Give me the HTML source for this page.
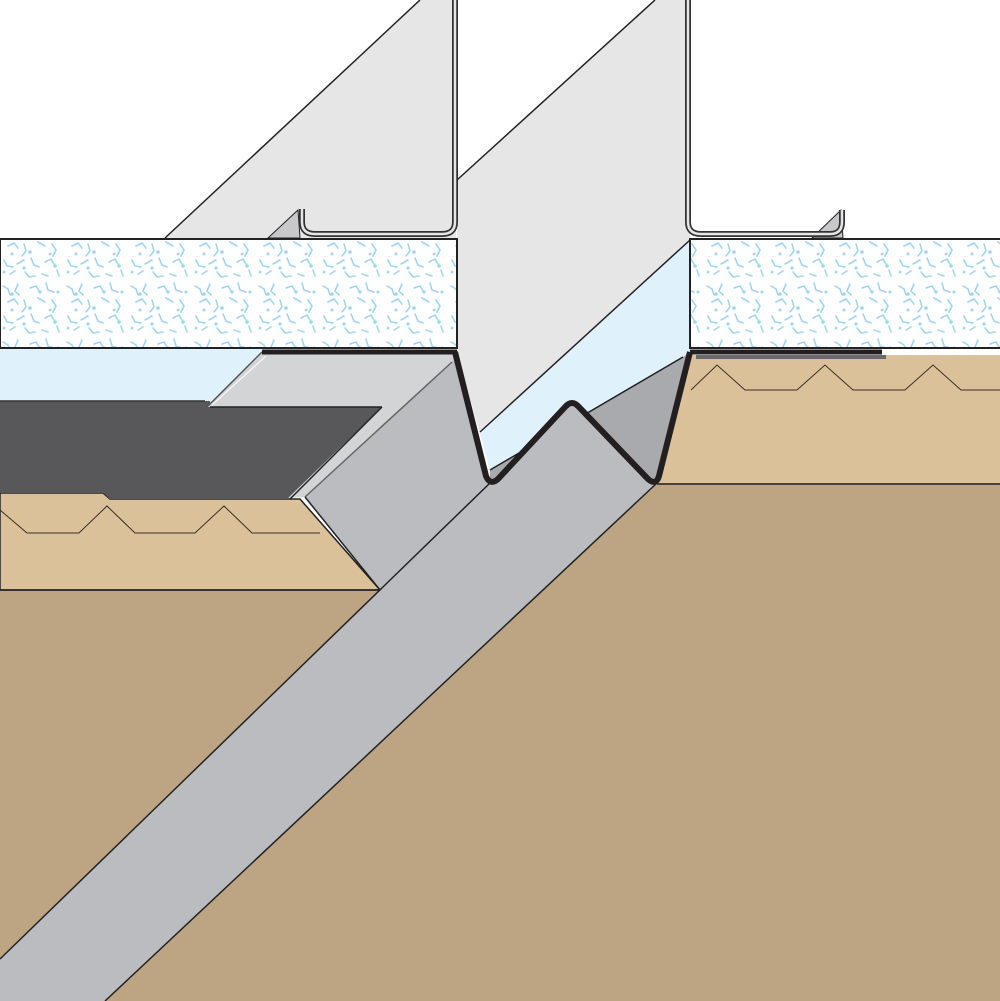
<!DOCTYPE html>
<html><head><meta charset="utf-8"><style>html,body{margin:0;padding:0;background:#fff}svg{display:block}</style></head>
<body>
<svg width="1000" height="1001" viewBox="0 0 1000 1001" xmlns="http://www.w3.org/2000/svg">
<defs>
<pattern id="sp" width="64" height="56" patternUnits="userSpaceOnUse">
<rect width="64" height="56" fill="#fff"/>
<g fill="none" stroke="#9fd6f1" stroke-width="1.6" stroke-linecap="round">
<path d="M3 6 l5 3 l2 6"/><path d="M18 4 l-3 7 l4 4"/><path d="M30 8 l6 -2 l3 5"/><path d="M46 3 l2 7 l6 2"/>
<path d="M8 22 l6 -3 l4 5"/><path d="M24 20 l2 7 l-4 5"/><path d="M38 18 l7 4"/><path d="M52 20 l4 6 l-3 6"/>
<path d="M4 36 l3 6 l6 1"/><path d="M17 40 l7 -4"/><path d="M31 34 l3 7 l5 2"/><path d="M45 38 l6 -3 l3 5"/>
<path d="M10 50 l5 -3"/><path d="M25 48 l4 5 l6 -1"/><path d="M42 50 l6 2"/><path d="M57 46 l2 6"/>
</g>
<g fill="#9fd6f1">
<circle cx="12" cy="14" r="1.8"/><circle cx="40" cy="12" r="1.6"/><circle cx="58" cy="12" r="1.5"/><circle cx="30" cy="28" r="1.8"/>
<circle cx="50" cy="30" r="1.4"/><circle cx="12" cy="30" r="1.5"/><circle cx="24" cy="44" r="1.6"/><circle cx="55" cy="42" r="1.8"/><circle cx="4" cy="48" r="1.4"/>
</g>
</pattern>
</defs>
<rect width="1000" height="1001" fill="#fff"/>
<!-- right floor -->
<polygon points="657,483 1000,483 1000,1001 105,1001" fill="#bda584"/>
<!-- left floor -->
<polygon points="0,590 380,590 0,959" fill="#bda584"/>
<!-- left tan layer -->
<polygon points="0,493 103,493 110,499 300,499 380,590 0,590" fill="#dbc19a" stroke="#222" stroke-width="1.5"/>
<polyline points="0,510 27,533 79,533 107,506 135,533 195,533 224,506 252,533 320,533" fill="none" stroke="#3a2f24" stroke-width="1"/>
<!-- left light blue band -->
<rect x="0" y="348" width="300" height="60" fill="#dff1fb"/>
<!-- dark slab -->
<polygon points="0,401 210,401 210,407 382,407 290,499 110,499 103,493 0,493" fill="#58585a"/>
<line x1="0" y1="401" x2="205" y2="401" stroke="#333" stroke-width="1.5"/>
<!-- right tan layer -->
<polygon points="690,355 1000,355 1000,483 657,483" fill="#dbc19a"/>
<line x1="657" y1="484" x2="1000" y2="484" stroke="#222" stroke-width="1.5"/>
<polyline points="691,390 717,365 745,390 797,390 825,365 853,390 905,390 933,365 961,390 1000,390" fill="none" stroke="#3a2f24" stroke-width="1"/>
<!-- flashing flange -->
<polygon points="262,352 457,352 457,357 305,497 288,498 382,407 207,407" fill="#d3d4d6"/>
<polyline points="207,407 262,352" fill="none" stroke="#555" stroke-width="1.5"/>
<polyline points="212,405 266,356" fill="none" stroke="#fff" stroke-width="1"/>
<line x1="210" y1="407" x2="382" y2="407" stroke="#222" stroke-width="1.5"/>
<line x1="382" y1="407" x2="290" y2="499" stroke="#222" stroke-width="1.5"/>
<!-- flashing vertical face -->
<polygon points="305,497 457,357 490,483 380,590" fill="#bbbcc0"/>
<line x1="305" y1="497" x2="452" y2="362" stroke="#666" stroke-width="1.5"/>
<line x1="305" y1="497" x2="380" y2="590" stroke="#222" stroke-width="1.5"/>
<line x1="0" y1="590" x2="380" y2="590" stroke="#222" stroke-width="1.5"/>
<!-- vertical plates -->
<polygon points="165,238 420,0 456,0 456,238" fill="#e6e6e7"/>
<line x1="165" y1="238" x2="420" y2="0" stroke="#222" stroke-width="1.5"/>
<polygon points="457,180 655,0 690,0 690,240 480,432 490,470 457,352" fill="#e6e6e7"/>
<line x1="457" y1="180" x2="655" y2="0" stroke="#222" stroke-width="1.5"/>
<!-- hooks -->
<polygon points="268,238 298,210 300,238" fill="#c8c8ca" stroke="#222" stroke-width="1"/>
<path d="M302 209 L302 222 Q302 234 315 234 L442 234 Q455 234 455 222 L455 0" fill="none" stroke="#333" stroke-width="6"/>
<path d="M302 209 L302 222 Q302 234 315 234 L442 234 Q455 234 455 222 L455 0" fill="none" stroke="#e6e6e7" stroke-width="2.5"/>
<polygon points="812,238 841,210 843,238" fill="#c8c8ca" stroke="#222" stroke-width="1"/>
<path d="M688 0 L688 222 Q688 234 701 234 L830 234 Q842 234 842 222 L842 210" fill="none" stroke="#333" stroke-width="6"/>
<path d="M688 0 L688 222 Q688 234 701 234 L830 234 Q842 234 842 222 L842 210" fill="none" stroke="#e6e6e7" stroke-width="2.5"/>
<!-- blue band in gap -->
<polygon points="690,240 690,352 683,357 490,470 480,432" fill="#dff1fb"/>
<line x1="690" y1="240" x2="480" y2="432" stroke="#222" stroke-width="1.5"/>
<!-- darker gray behind -->
<polygon points="683,357 690,352 658,483 490,483 490,470" fill="#a9aaae"/>
<line x1="683" y1="357" x2="490" y2="470" stroke="#222" stroke-width="1.5"/>
<!-- diagonal strip -->
<polygon points="490,483 572,402 657,483 105,1001 0,1001 0,959" fill="#bbbcc0"/>
<line x1="490" y1="483" x2="0" y2="959" stroke="#222" stroke-width="1.5"/>
<line x1="657" y1="483" x2="105" y2="1001" stroke="#222" stroke-width="1.5"/>
<!-- insulation boards -->
<rect x="0" y="239" width="457" height="109" fill="url(#sp)" stroke="#222" stroke-width="2"/>
<rect x="690" y="239" width="312" height="109" fill="url(#sp)" stroke="#222" stroke-width="2"/>
<!-- membranes -->
<line x1="262" y1="352" x2="457" y2="352" stroke="#231f20" stroke-width="5"/>
<rect x="696" y="355" width="190" height="4" fill="#6a6a6c"/>
<line x1="690" y1="352" x2="882" y2="352" stroke="#231f20" stroke-width="5"/>
<path d="M455 352 L486 476 Q490 486 498 479 L566 406 Q572 400 578 406 L648 479 Q656 486 659 476 L690 352" fill="none" stroke="#231f20" stroke-width="6" stroke-linejoin="round"/>
</svg>
</body></html>
